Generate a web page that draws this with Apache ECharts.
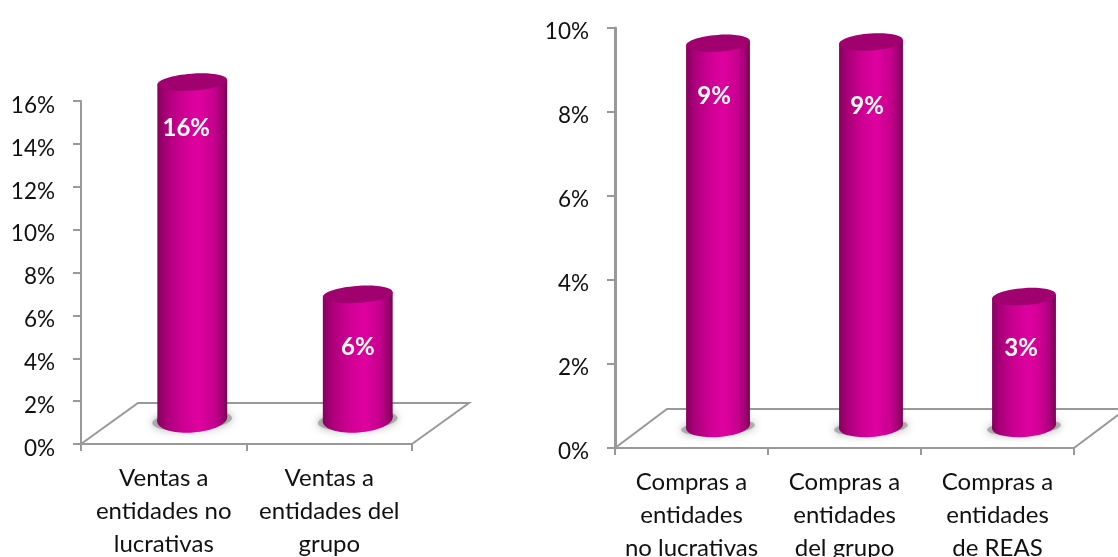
<!DOCTYPE html>
<html><head><meta charset="utf-8">
<style>html,body{margin:0;padding:0;background:#fff}#c{width:1118px;height:557px}</style>
<script src="https://cdn.jsdelivr.net/npm/echarts@6/dist/echarts.min.js"></script>
</head><body><div id="c"></div>
<script>
const leftCategories = ['Ventas a\nentidades no\nlucrativas', 'Ventas a\nentidades del\ngrupo'];
const leftValues = [15.9, 6.0];
const rightCategories = ['Compras a\nentidades\nno lucrativas', 'Compras a\nentidades\ndel grupo', 'Compras a\nentidades\nde REAS'];
const rightValues = [9.17, 9.2, 3.14];

const FONT = 'Lato';
const AXIS = '#999999';
const TEXT = '#111111';
const leftLook = {dx: 57, dy: 41, shiftX: 28.5, topUp: 21, baseUp: 24.5, rx: 35, baseRy: 13, topRy: 8.5,
  labelNudge: [[-6, 46], [0, 53]]};
const rightLook = {dx: 52, dy: 39, shiftX: 26.5, topUp: 19.5, baseUp: 21.5, rx: 32, baseRy: 10.5, topRy: 8.5,
  labelNudge: [[-4, 53], [-4, 64], [-3, 52]]};

const bodyFill = {type: 'linear', x: 0, y: 0, x2: 1, y2: 0, colorStops: [
  {offset: 0, color: '#86005f'}, {offset: 0.12, color: '#a80078'}, {offset: 0.35, color: '#cc0092'},
  {offset: 0.58, color: '#df00a0'}, {offset: 0.8, color: '#c8008f'}, {offset: 0.93, color: '#a00072'}, {offset: 1, color: '#78004f'}]};

function floorItem(look) {
  return function (params, api) {
    const r = params.coordSys;
    const x0 = r.x, x1 = r.x + r.width, y0 = r.y + r.height;
    return {type: 'polyline', silent: true,
      shape: {points: [[x0, y0], [x0 + look.dx, y0 - look.dy], [x1 + look.dx, y0 - look.dy], [x1, y0]]},
      style: {fill: null, stroke: AXIS, lineWidth: 2}};
  };
}
function barItem(look) {
  const ROT = 0.07;
  return function (params, api) {
    const i = api.value(0), v = api.value(1);
    const t = api.coord([i, v]), b = api.coord([i, 0]);
    const cx = t[0] + look.shiftX, ty = t[1] - look.topUp, by = b[1] - look.baseUp;
    const ex = look.rx * Math.cos(ROT), ey = look.rx * Math.sin(ROT);
    const n = look.labelNudge[params.dataIndex];
    return {type: 'group', children: [
      {type: 'ellipse', x: cx, y: by + 1, rotation: ROT, shape: {cx: 0, cy: 0, rx: look.rx + 5, ry: look.baseRy - 3},
        style: {fill: 'rgba(150,150,150,0.7)', shadowBlur: 9, shadowColor: 'rgba(130,130,130,0.9)'}},
      {type: 'ellipse', x: cx, y: by, rotation: ROT, shape: {cx: 0, cy: 0, rx: look.rx, ry: look.baseRy}, style: {fill: bodyFill}},
      {type: 'polygon', shape: {points: [[cx - ex, ty + ey], [cx + ex, ty - ey], [cx + ex, by - ey], [cx - ex, by + ey]]}, style: {fill: bodyFill}},
      {type: 'ellipse', x: cx, y: ty, rotation: ROT, shape: {cx: 0, cy: 0, rx: look.rx, ry: look.topRy}, style: {fill: '#a1006f'}},
      {type: 'text', x: cx + n[0], y: ty + n[1], style: {text: v.toFixed(0) + '%', fill: '#fff', font: 'bold 24px ' + FONT, align: 'center', verticalAlign: 'middle'}}
    ]};
  };
}
function pairs(vals) { return vals.map((v, i) => [i, v]); }
function xAxis(idx, cats) {
  return {type: 'category', gridIndex: idx, data: cats, boundaryGap: true,
    axisLine: {lineStyle: {color: AXIS, width: 2}}, axisTick: {show: true, alignWithLabel: false, length: 7, lineStyle: {color: AXIS, width: 2}},
    axisLabel: {interval: 0, color: TEXT, fontFamily: FONT, fontSize: 24, lineHeight: 33, margin: 18}};
}
function yAxis(idx, max, w, lh) {
  return {type: 'value', gridIndex: idx, min: 0, max: max, interval: 2, splitLine: {show: false},
    axisLine: {show: true, lineStyle: {color: AXIS, width: w}}, axisTick: {show: true, length: 8, lineStyle: {color: AXIS, width: 2}},
    axisLabel: {formatter: '{value}%', color: TEXT, fontFamily: FONT, fontSize: 22.5, margin: 26, verticalAlign: 'top', lineHeight: lh}};
}
const chart = echarts.init(document.getElementById('c'), null, {renderer: 'canvas'});
chart.setOption({
  animation: false, backgroundColor: '#fff',
  grid: [{left: 81, top: 101, width: 331, height: 343, outerBoundsMode: 'none', containLabel: false},
         {left: 615, top: 28, width: 459, height: 420, outerBoundsMode: 'none', containLabel: false}],
  xAxis: [xAxis(0, leftCategories), xAxis(1, rightCategories)],
  yAxis: [yAxis(0, 16, 2, 9), yAxis(1, 10, 3, 8)],
  series: [
    {type: 'custom', xAxisIndex: 0, yAxisIndex: 0, z: 1, silent: true, clip: false, data: [[0, 0]], renderItem: floorItem(leftLook)},
    {type: 'custom', xAxisIndex: 1, yAxisIndex: 1, z: 1, silent: true, clip: false, data: [[0, 0]], renderItem: floorItem(rightLook)},
    {type: 'custom', name: 'Ventas', xAxisIndex: 0, yAxisIndex: 0, z: 3, clip: false, data: pairs(leftValues), encode: {x: 0, y: 1}, renderItem: barItem(leftLook)},
    {type: 'custom', name: 'Compras', xAxisIndex: 1, yAxisIndex: 1, z: 3, clip: false, data: pairs(rightValues), encode: {x: 0, y: 1}, renderItem: barItem(rightLook)}
  ]
});
</script></body></html>
